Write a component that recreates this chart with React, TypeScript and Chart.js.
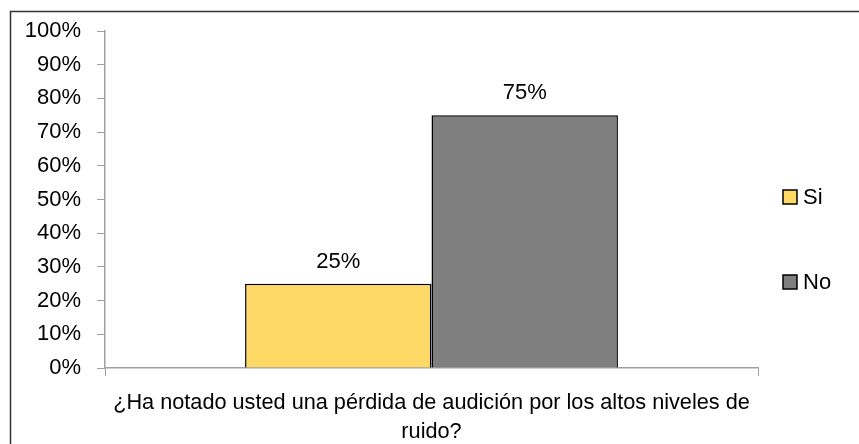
import React, { useEffect, useRef } from 'react';
import { Chart, registerables } from 'chart.js';

Chart.register(...registerables);

// ---- Data ----
const categories = ['¿Ha notado usted una pérdida de audición por los altos niveles de ruido?'];
const seriesNames = ['Si', 'No'];
const siValues = [25];
const noValues = [75];
const seriesColors = ['#FFD966', '#7F7F7F'];
const axisTitleLines = ['¿Ha notado usted una pérdida de audición por los altos niveles de', 'ruido?'];
const yMin = 0;
const yMax = 100;
const yStep = 10;

const SANS = "'Liberation Sans', Arial, sans-serif";
const AXIS_GRAY = '#A0A0A0';
const LABEL_SIZE = 22;

const framePlugin = {
  id: 'frame',
  beforeDraw(chart: any) {
    const ctx = chart.ctx;
    ctx.save();
    ctx.fillStyle = '#fff';
    ctx.fillRect(0, 0, chart.width, chart.height);
    ctx.strokeStyle = '#333';
    ctx.lineWidth = 1.5;
    ctx.strokeRect(10.5, 11.5, chart.width + 50, chart.height + 50);
    ctx.restore();
  },
};

const dataLabelPlugin = {
  id: 'dataLabels',
  afterDatasetsDraw(chart: any) {
    const ctx = chart.ctx;
    ctx.save();
    ctx.font = `${LABEL_SIZE}px ${SANS}`;
    ctx.fillStyle = '#000';
    ctx.textAlign = 'center';
    ctx.textBaseline = 'alphabetic';
    chart.data.datasets.forEach((ds: any, i: number) => {
      const meta = chart.getDatasetMeta(i);
      meta.data.forEach((el: any, j: number) => {
        ctx.fillText(`${ds.data[j]}%`, el.x, el.y - 16);
      });
    });
    ctx.restore();
  },
};

const sideLegendPlugin = {
  id: 'sideLegend',
  afterDraw(chart: any) {
    const { ctx, chartArea } = chart;
    ctx.save();
    ctx.font = `${LABEL_SIZE}px ${SANS}`;
    ctx.textAlign = 'left';
    ctx.textBaseline = 'middle';
    chart.data.datasets.forEach((ds: any, i: number) => {
      const bx = chartArea.right + 25;
      const cy = chartArea.top + 166 + i * 85;
      ctx.fillStyle = ds.backgroundColor;
      ctx.fillRect(bx, cy - 7, 14, 14);
      ctx.strokeStyle = '#000';
      ctx.lineWidth = 1.5;
      ctx.strokeRect(bx, cy - 7, 14, 14);
      ctx.fillStyle = '#000';
      ctx.fillText(ds.label, bx + 20, cy + 1);
    });
    ctx.restore();
  },
};

export default function App() {
  const canvasRef = useRef<HTMLCanvasElement | null>(null);

  useEffect(() => {
    document.body.style.margin = '0';
    const canvas = canvasRef.current;
    if (!canvas) return;
    const chart = new Chart(canvas, {
      type: 'bar',
      data: {
        labels: categories,
        datasets: [
          {
            label: seriesNames[0],
            data: siValues,
            backgroundColor: seriesColors[0],
            borderColor: '#000',
            borderWidth: 1.5,
          },
          {
            label: seriesNames[1],
            data: noValues,
            backgroundColor: seriesColors[1],
            borderColor: '#000',
            borderWidth: 1.5,
          },
        ],
      },
      options: {
        responsive: false,
        animation: false,
        devicePixelRatio: 1,
        layout: { padding: { left: 0, top: 31, right: 101, bottom: 0 } },
        datasets: {
          bar: { categoryPercentage: 0.571, barPercentage: 1 },
        },
        plugins: {
          legend: { display: false },
          tooltip: { enabled: false },
          title: { display: false },
        },
        scales: {
          x: {
            offset: true,
            grid: {
              display: true,
              offset: true,
              drawOnChartArea: false,
              drawTicks: true,
              tickLength: 8,
              color: AXIS_GRAY,
            },
            border: { display: true, color: AXIS_GRAY, width: 1.5 },
            ticks: { display: false },
            title: {
              display: true,
              text: axisTitleLines,
              color: '#000',
              font: { family: SANS, size: 21.7, lineHeight: '29px' },
              padding: { top: 0, bottom: -3 },
            },
            afterFit(scale: any) {
              scale.height = 76;
            },
          },
          y: {
            min: yMin,
            max: yMax,
            grid: {
              display: true,
              drawOnChartArea: false,
              drawTicks: true,
              tickLength: 8,
              color: AXIS_GRAY,
            },
            border: { display: true, color: AXIS_GRAY, width: 1.5 },
            ticks: {
              stepSize: yStep,
              padding: 16,
              color: '#000',
              font: { family: SANS, size: LABEL_SIZE },
              callback: (v: any) => `${v}%`,
            },
            afterFit(scale: any) {
              scale.width = 105;
            },
          },
        },
      },
      plugins: [framePlugin, dataLabelPlugin, sideLegendPlugin],
    });
    return () => chart.destroy();
  }, []);

  return (
    <div style={{ width: 859, height: 444 }}>
      <canvas ref={canvasRef} width={859} height={444} style={{ display: 'block' }} />
    </div>
  );
}
